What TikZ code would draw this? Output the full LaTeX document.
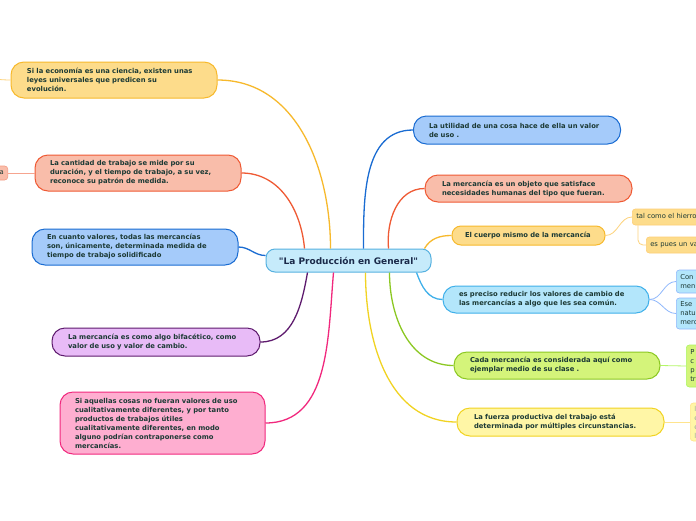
\documentclass[tikz,border=0pt]{standalone}
\usepackage{fontspec}
\setmainfont{DejaVu Sans}[Ligatures=TeXOff]
\usetikzlibrary{calc}
\definecolor{txt}{HTML}{1C3A35}
\definecolor{ctxt}{HTML}{1B2A4A}
\definecolor{yF}{HTML}{FDDC8B}\definecolor{yD}{HTML}{F7B92C}
\definecolor{sF}{HTML}{F9BDAA}\definecolor{sD}{HTML}{EF5A34}
\definecolor{bF}{HTML}{A5CBFA}\definecolor{bD}{HTML}{1A6CD2}
\definecolor{pF}{HTML}{E8BBF7}\definecolor{pD}{HTML}{5E1B6E}
\definecolor{kF}{HTML}{FEAED0}\definecolor{kD}{HTML}{F1287D}
\definecolor{lF}{HTML}{B3E6FB}\definecolor{lD}{HTML}{3FB0EA}
\definecolor{gF}{HTML}{D4F47A}\definecolor{gD}{HTML}{8CC823}
\definecolor{wF}{HTML}{FFF6A6}\definecolor{wD}{HTML}{F1D322}
\definecolor{cF}{HTML}{C6EBFB}\definecolor{cD}{HTML}{56B1E0}
\tikzset{
  box/.style={draw, rounded corners=13pt, line width=1pt, inner sep=0pt,
    align=left, text=txt, font=\fontsize{6.8}{9}\selectfont\bfseries},
  sub/.style={draw, rounded corners=3pt, line width=0.6pt, inner xsep=4pt, inner ysep=0pt,
    align=left, text=txt, anchor=west, font=\fontsize{6.8}{9}\selectfont},
  conn/.style={line width=1.3pt},
  sconn/.style={line width=0.8pt}
}
\begin{document}
\begin{tikzpicture}[x=1pt,y=-1pt]
\useasboundingbox (0,0) rectangle (696,520);
\clip (0,0) rectangle (696,520);
\fill[white] (0,0) rectangle (696,520);
% center
\node[draw=cD, fill=cF, rounded corners=9pt, line width=1pt, minimum width=165pt, minimum height=23pt, inner sep=0pt,
  text=ctxt, font=\fontsize{9}{11}\selectfont\bfseries] (c) at (348.5,260.5) {"La Producción en General"};
% left nodes
\node[box, fill=yF, draw=yD, minimum width=206pt, minimum height=36pt, text width=174pt] (n1) at (114,80)
 {Si la economía es una ciencia, existen unas\\leyes universales que predicen su\\evolución.};
\node[box, fill=sF, draw=sD, minimum width=206pt, minimum height=36pt, text width=176pt] (n2) at (138,173)
 {La cantidad de trabajo se mide por su\\duración, y el tiempo de trabajo, a su vez,\\reconoce su patrón de medida.};
\node[box, fill=bF, draw=bD, minimum width=206pt, minimum height=36pt, text width=176pt] (n3) at (135,247)
 {En cuanto valores, todas las mercancías\\son, únicamente, determinada medida de\\tiempo de trabajo solidificado};
\node[box, fill=pF, draw=pD, minimum width=208pt, minimum height=28pt, text width=176pt] (n4) at (156,342)
 {La mercancía es como algo bifacético, como\\valor de uso y valor de cambio.};
\node[box, fill=kF, draw=kD, minimum width=205pt, minimum height=62pt, text width=175pt] (n5) at (162.5,423)
 {Si aquellas cosas no fueran valores de uso\\cualitativamente diferentes, y por tanto\\productos de trabajos útiles\\cualitativamente diferentes, en modo\\alguno podrían contraponerse como\\mercancías.};
% right nodes
\node[box, fill=bF, draw=bD, minimum width=207pt, minimum height=28pt, text width=176pt] (r1) at (517,130)
 {La utilidad de una cosa hace de ella un valor\\de uso .};
\node[box, fill=sF, draw=sD, minimum width=207pt, minimum height=27pt, text width=173pt] (r2) at (528.5,188.5)
 {La mercancía es un objeto que satisface\\necesidades humanas del tipo que fueran.};
\node[box, fill=yF, draw=yD, rounded corners=9pt, minimum width=153pt, minimum height=19pt, text width=127pt] (r3) at (528.5,235.5)
 {El cuerpo mismo de la mercancía};
\node[box, fill=lF, draw=lD, minimum width=206pt, minimum height=27pt, text width=174pt] (r4) at (546,299.5)
 {es preciso reducir los valores de cambio de\\las mercancías a algo que les sea común.};
\node[box, fill=gF, draw=gD, minimum width=206pt, minimum height=27pt, text width=174pt] (r5) at (557,365.5)
 {Cada mercancía es considerada aquí como\\ejemplar medio de su clase .};
\node[box, fill=wF, draw=wD, minimum width=207pt, minimum height=28pt, text width=173pt] (r6) at (560.5,422)
 {La fuerza productiva del trabajo está\\determinada por múltiples circunstancias.};
% sub nodes
\node[sub, fill=yF, draw=yF!85!orange, minimum height=16pt, text width=100pt] (s1) at (632,217) {tal como el hierro, el trigo};
\node[sub, fill=yF, draw=yF!85!orange, minimum height=16pt, text width=100pt] (s2) at (646,245) {es pues un valor de uso};
\node[sub, fill=lF, draw=lF!80!blue, minimum height=23pt, text width=60pt] (s3) at (676,281.5) {Con\\men};
\node[sub, fill=lF, draw=lF!80!blue, minimum height=31pt, text width=60pt] (s4) at (676,313.5) {Ese\\natu\\merc};
\node[sub, fill=gF, draw=gF!80!green, minimum height=42pt, text width=60pt] (s5) at (686,366) {P\\c\\p\\tr};
\node[sub, fill=wF, draw=wF!85!orange, minimum height=38pt, text width=60pt, text=txt!45] (s6) at (690,422) {l\\e\\e\\l};
\node[sub, anchor=east, fill=sF, draw=sD!60, minimum height=14pt] (s7) at (8,173) {a};
\coordinate (s0) at (-12,79);
% connector anchors on center
\coordinate (cn1) at ([xshift=65pt]c.north west);
\coordinate (cn2) at ([xshift=39pt]c.north west);
\coordinate (cn3) at ([yshift=5pt]c.west);
\coordinate (cn4) at ([xshift=42pt]c.south west);
\coordinate (cn5) at ([xshift=68pt]c.south west);
\coordinate (cr1) at ([xshift=98pt]c.north west);
\coordinate (cr2) at ([xshift=123pt]c.north west);
\coordinate (cr3) at ([xshift=-7pt]c.north east);
\coordinate (cr4) at ([xshift=151pt]c.south west);
\coordinate (cr5) at ([xshift=124pt]c.south west);
\coordinate (cr6) at ([xshift=100pt]c.south west);
% main connectors
\draw[conn, draw=yD] (cn1) to[out=90,in=0] (n1.east);
\draw[conn, draw=sD] (cn2) to[out=95,in=0] (n2.east);
\draw[conn, draw=bD] (cn3) to[out=180,in=0] (n3.east);
\draw[conn, draw=pD] (cn4) to[out=-100,in=0] (n4.east);
\draw[conn, draw=kD] (cn5) to[out=-95,in=0] (n5.east);
\draw[conn, draw=bD] (cr1) to[out=90,in=180] (r1.west);
\draw[conn, draw=sD] (cr2) to[out=95,in=180] (r2.west);
\draw[conn, draw=yD] (cr3) to[out=60,in=180] (r3.west);
\draw[conn, draw=lD] (cr4) to[out=-70,in=180] (r4.west);
\draw[conn, draw=gD] (cr5) to[out=-90,in=180] (r5.west);
\draw[conn, draw=wD] (cr6) to[out=-90,in=180] (r6.west);
% sub connectors
\draw[sconn, draw=yF!90!orange] (r3.east) to[out=0,in=180] (s1.west);
\draw[sconn, draw=yF!90!orange, rounded corners=5pt] ([xshift=6pt]s1.south west) |- (s2.west);
\draw[sconn, draw=lF!80!blue] (r4.east) to[out=0,in=180] (s3.west);
\draw[sconn, draw=lF!80!blue] (r4.east) to[out=0,in=180] (s4.west);
\draw[sconn, draw=gF!85!green] (r5.east) -- (s5.west);
\draw[sconn, draw=wF!85!orange] (r6.east) -- (s6.west);
\draw[sconn, draw=sD!55] (n2.west) -- (s7.east);
\draw[sconn, draw=yF!90!orange] (n1.west) to[out=180,in=0] (s0);
\end{tikzpicture}
\end{document}
